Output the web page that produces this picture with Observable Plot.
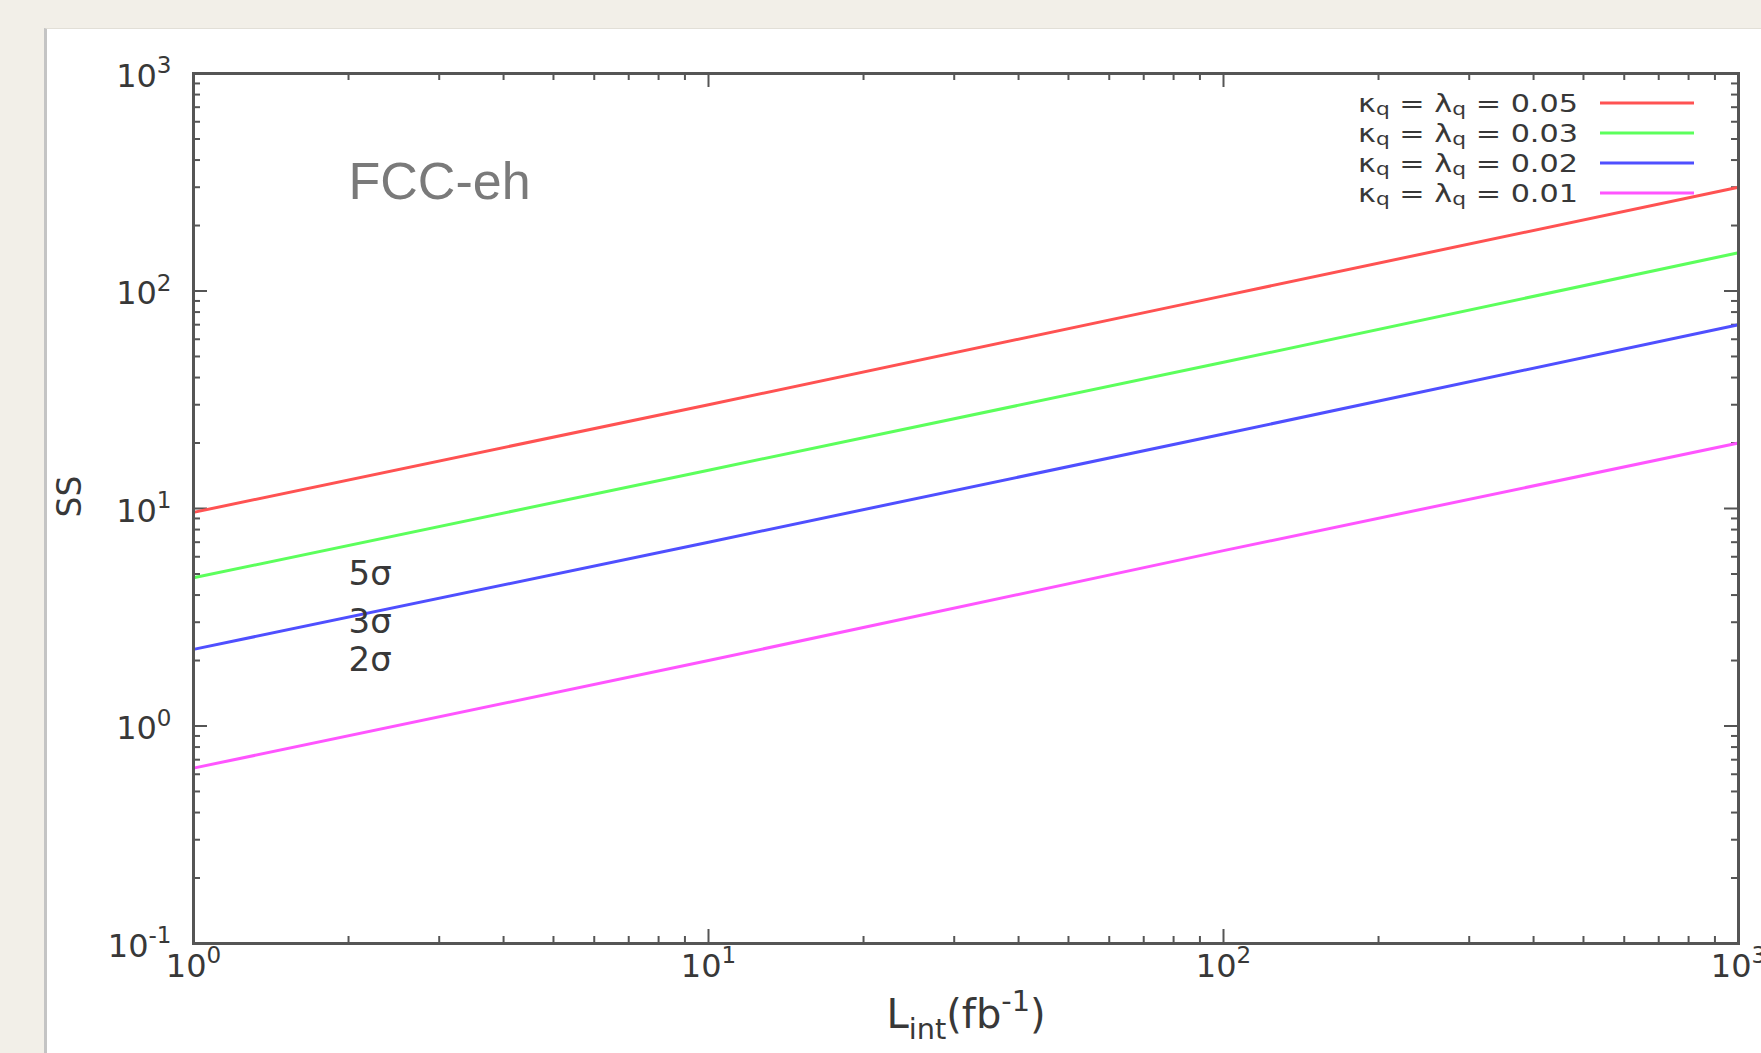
<!DOCTYPE html>
<html>
<head>
<meta charset="utf-8">
<script src="https://cdn.jsdelivr.net/npm/d3@7"></script>
<script src="https://cdn.jsdelivr.net/npm/@observablehq/plot@0.6"></script>
<style>
  html, body { margin: 0; padding: 0; background: #f2efe8; width: 1761px; height: 1053px; overflow: hidden; }
  #panel { position: absolute; left: 44px; top: 28px; right: 0; bottom: 0; background: #ffffff;
           border-left: 3px solid #c4c4c4; border-top: 1px solid #e2dfd7; }
  #chart { position: absolute; left: 0; top: 0; }
</style>
</head>
<body>
<div id="panel"></div>
<div id="chart"></div>
<script>
// ---- data ----
const lumi = [1, 10, 100, 1000];                 // L_int (fb^-1)
const ss005 = [9.6, 30, 95, 300];                // kappa = lambda = 0.05
const ss003 = [4.8, 15, 47, 150];                // 0.03
const ss002 = [2.25, 7.0, 22, 70];               // 0.02
const ss001 = [0.64, 2.0, 6.4, 20];              // 0.01
const seriesLabels = ["κ_{q} = λ_{q} = 0.05", "κ_{q} = λ_{q} = 0.03", "κ_{q} = λ_{q} = 0.02", "κ_{q} = λ_{q} = 0.01"];
const seriesColors = ["#ff5252", "#5cff5c", "#4f4fff", "#ff55ff"];
const xMajorTicks = [1, 10, 100, 1000];
const yMajorTicks = [0.1, 1, 10, 100, 1000];
const sigmaLabels = ["5σ", "3σ", "2σ"];
const sigmaLevels = [5, 3, 2];
const sigmaX = 2;
const tagText = "FCC-eh";
const tagX = 2, tagY = 315;
const xLabel = "L_{int}(fb^{-1})";
const yLabel = "SS";

// ---- table ----
const seriesValues = [ss005, ss003, ss002, ss001];
const rows = seriesValues.flatMap((vals, s) => vals.map((v, i) => ({L: lumi[i], SS: v, series: seriesLabels[s]})));

const W = 1761, H = 1053;
const mL = 193, mR = 23, mT = 73, mB = 110;
const frameW = W - mL - mR, frameH = H - mT - mB;
const majorLen = 14, minorLen = 7;

const isPow10 = d => Math.abs(Math.log10(d) - Math.round(Math.log10(d))) < 1e-9;
const xMinor = d3.scaleLog().domain([1, 1000]).ticks().filter(d => !isPow10(d));
const yMinor = d3.scaleLog().domain([0.1, 1000]).ticks().filter(d => !isPow10(d));
const powFmt = d => `10^{${Math.round(Math.log10(d))}}`;

const tickStroke = "#555555";
const textFill = "#383838";

const plot = Plot.plot({
  width: W, height: H,
  marginLeft: mL, marginRight: mR, marginTop: mT, marginBottom: mB,
  style: {background: "transparent", fontFamily: "DejaVu Sans", fontSize: "30px"},
  x: {type: "log", domain: [1, 1000], axis: null},
  y: {type: "log", domain: [0.1, 1000], axis: null},
  color: {domain: seriesLabels, range: seriesColors},
  marks: [
    // ticks (inward, mirrored on all sides)
    Plot.tickX(xMajorTicks, {x: d => d, insetTop: frameH - majorLen, stroke: tickStroke, strokeWidth: 2}),
    Plot.tickX(xMajorTicks, {x: d => d, insetBottom: frameH - majorLen, stroke: tickStroke, strokeWidth: 2}),
    Plot.tickX(xMinor, {x: d => d, insetTop: frameH - minorLen, stroke: tickStroke, strokeWidth: 2}),
    Plot.tickX(xMinor, {x: d => d, insetBottom: frameH - minorLen, stroke: tickStroke, strokeWidth: 2}),
    Plot.tickY(yMajorTicks, {y: d => d, insetRight: frameW - majorLen, stroke: tickStroke, strokeWidth: 2}),
    Plot.tickY(yMajorTicks, {y: d => d, insetLeft: frameW - majorLen, stroke: tickStroke, strokeWidth: 2}),
    Plot.tickY(yMinor, {y: d => d, insetRight: frameW - minorLen, stroke: tickStroke, strokeWidth: 2}),
    Plot.tickY(yMinor, {y: d => d, insetLeft: frameW - minorLen, stroke: tickStroke, strokeWidth: 2}),
    // series
    Plot.line(rows, {x: "L", y: "SS", z: "series", stroke: "series", strokeWidth: 3}),
    Plot.frame({stroke: tickStroke, strokeWidth: 3}),
    // tick labels
    Plot.text(xMajorTicks, {x: d => d, frameAnchor: "bottom", dy: 33, text: powFmt, fill: textFill, fontSize: 32}),
    Plot.text(yMajorTicks, {y: d => d, frameAnchor: "left", dx: -22, dy: 3, textAnchor: "end", text: powFmt, fill: textFill, fontSize: 32}),
    // axis labels
    Plot.text([xLabel], {frameAnchor: "bottom", dy: 84, text: d => d, fill: textFill, fontSize: 40}),
    Plot.text([yLabel], {frameAnchor: "left", dx: -123, dy: 9, rotate: -90, text: d => d, fill: textFill, fontSize: 33}),
    // annotations
    Plot.text(sigmaLabels, {x: () => sigmaX, y: (d, i) => sigmaLevels[i], text: d => d, textAnchor: "start", fill: textFill, fontSize: 34}),
    Plot.text([tagText], {x: () => tagX, y: () => tagY, text: d => d, textAnchor: "start", fill: "#7a7a7a", fontSize: 52, fontFamily: "Liberation Sans"})
  ]
});

document.getElementById("chart").appendChild(plot);

// ---- legend (top right, inside the frame) ----
const svg = d3.select(plot);
const lg = svg.append("g").attr("font-family", "DejaVu Sans").attr("font-size", 24).attr("fill", textFill);
const legendTextRight = 1578, legendTextWidth = 220, legendLineX1 = 1600, legendLineX2 = 1694, legendTop = 103, legendStep = 30;
const legendTexts = [];
seriesLabels.forEach((lab, i) => {
  const cy = legendTop + i * legendStep;
  const t = lg.append("text").attr("x", legendTextRight).attr("y", cy).attr("dy", "0.36em")
    .attr("text-anchor", "end").attr("data-sub", "0.16").text(lab);
  legendTexts.push(t.node());
  lg.append("line").attr("x1", legendLineX1).attr("x2", legendLineX2).attr("y1", cy).attr("y2", cy)
    .attr("stroke", seriesColors[i]).attr("stroke-width", 3);
});

// ---- rich text: ^{..} superscripts and _{..} subscripts as tspans ----
const NS = "http://www.w3.org/2000/svg";
function richify(el) {
  const s = el.textContent;
  if (!/[\^_]\{/.test(s)) return;
  const subShift = +(el.getAttribute("data-sub") || 0.28);
  while (el.firstChild) el.removeChild(el.firstChild);
  const re = /([\^_])\{([^}]*)\}|([^\^_]+)/g;
  let m, cur = 0;
  while ((m = re.exec(s))) {
    const t = document.createElementNS(NS, "tspan");
    let scale = 1, tgt = 0;
    if (m[3] !== undefined) { t.textContent = m[3]; }
    else {
      t.textContent = m[2]; scale = 0.72; tgt = m[1] === "^" ? -0.42 : subShift;
      t.setAttribute("font-size", "72%");
    }
    const delta = tgt - cur;
    if (Math.abs(delta) > 1e-9) t.setAttribute("dy", (delta / scale).toFixed(3) + "em");
    cur = tgt;
    el.appendChild(t);
  }
}
plot.querySelectorAll("text").forEach(richify);

// widen the legend entries to the reference's wide lettering
legendTexts.forEach(el => {
  const w = el.getComputedTextLength();
  if (w > 0) {
    const k = legendTextWidth / w;
    el.setAttribute("transform", `translate(${legendTextRight},0) scale(${k},1) translate(${-legendTextRight},0)`);
  }
});
</script>
</body>
</html>
